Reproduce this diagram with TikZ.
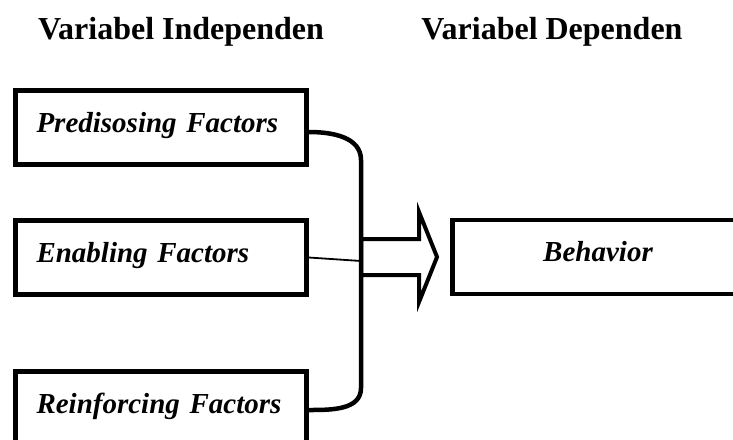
\documentclass[tikz,border=0pt]{standalone}
\usepackage{fontspec}
\setmainfont{Liberation Serif}
\usetikzlibrary{positioning}

\begin{document}
\begin{tikzpicture}[x=1pt,y=-1pt]
		\tikzstyle{every node}+=[inner sep=0pt]
		\tikzstyle{varbox}=[draw=black, line width=4.5pt, minimum height=74pt,
			inner xsep=21pt, text width=249pt, text height=20pt, text depth=11pt,
			font=\fontsize{29}{34}\selectfont\bfseries\itshape]
		\tikzstyle{factor}=[varbox, align=left]
		\tikzstyle{heading}=[anchor=base, font=\fontsize{32}{38}\selectfont\bfseries]
		\useasboundingbox (0,0) rectangle (733,439);
		\clip (0,0) rectangle (733,439);
		% headings
		\node [heading] (indep) at (181,39) {Variabel Independen};
		\node [heading] (dep) at (552,39) {Variabel Dependen};
		% boxes
		\node [factor] (predisposing) at (161,127.5) {Predisosing Factors};
		\node [factor] (enabling) at (161,257.5) {Enabling Factors};
		\node [factor] (reinforcing) at (161,408.5) {Reinforcing Factors};
		\node [varbox, align=center] (behavior) at (598,257) {Behavior};
		% brace
		\coordinate (bracetop) at (361,160);
		\coordinate (bracebot) at (361,388);
		\coordinate (joint) at (361,261);
		\draw [black, line width=4.5pt] ([yshift=-4.5pt]predisposing.east) to[out=0,in=90] (bracetop)
			-- (bracebot) to[out=-90,in=0] ([yshift=-1.5pt]reinforcing.east);
		\draw [black, line width=1.8pt] (enabling.east) -- (joint);
		% block arrow
		\coordinate (arrowtail) at (361,257);
		\draw [black, line width=4pt, miter limit=20] (arrowtail) ++(0,-18) -- ++(58,0) -- ++(0,-27)
			-- ++(18,45) -- ++(-18,45) -- ++(0,-27) -- ++(-58,0) -- cycle;
\end{tikzpicture}
\end{document}
